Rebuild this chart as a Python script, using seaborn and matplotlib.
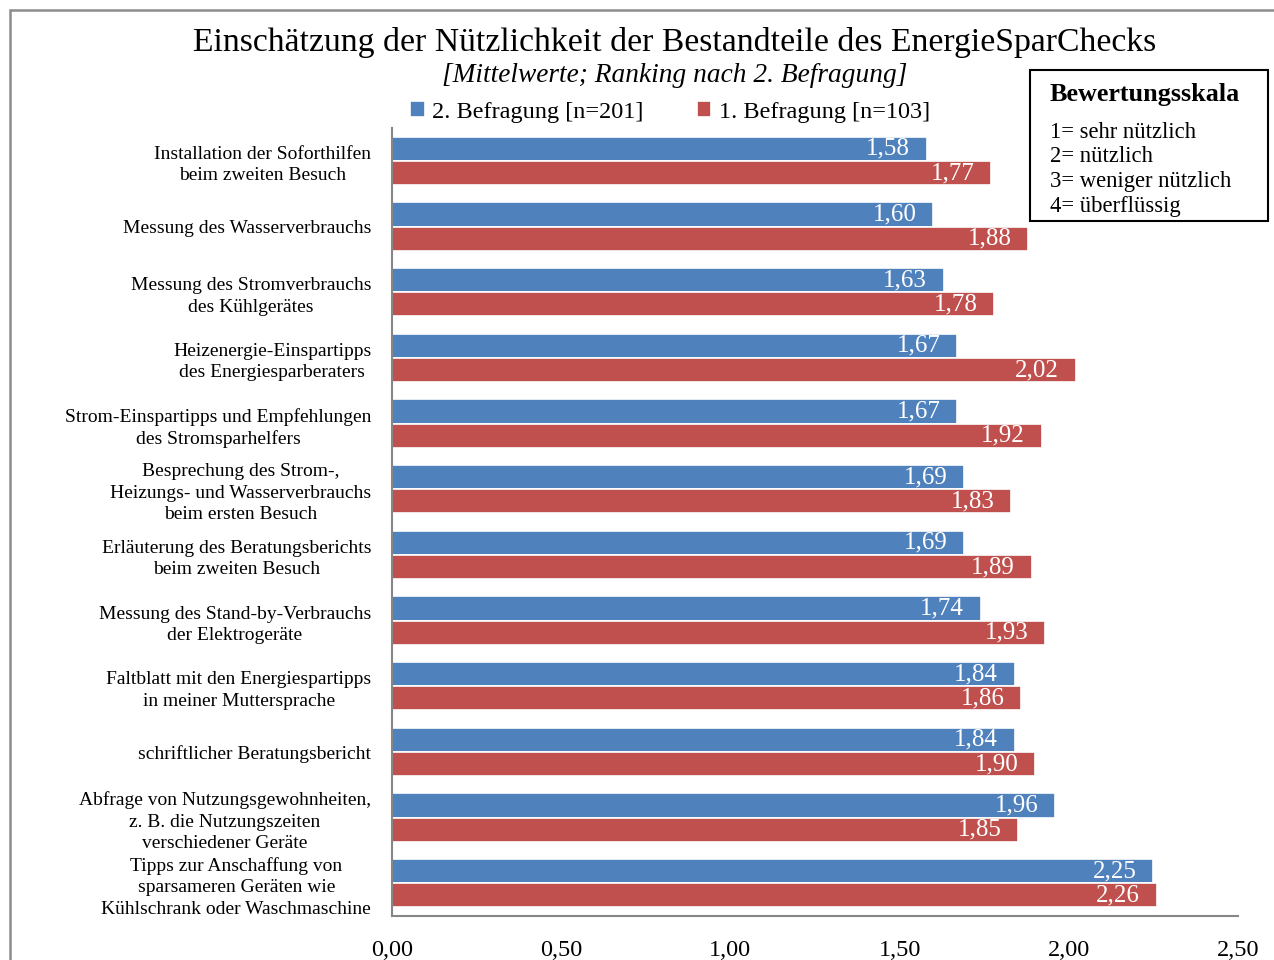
import matplotlib
matplotlib.use("Agg")
import matplotlib.pyplot as plt
import seaborn as sns
import pandas as pd
from matplotlib.ticker import FuncFormatter, MultipleLocator
from matplotlib.patches import Rectangle
from matplotlib.lines import Line2D

kategorien = [
    "Installation der Soforthilfen\nbeim zweiten Besuch",
    "Messung des Wasserverbrauchs",
    "Messung des Stromverbrauchs\ndes Kühlgerätes",
    "Heizenergie-Einspartipps\ndes Energiesparberaters",
    "Strom-Einspartipps und Empfehlungen\ndes Stromsparhelfers",
    "Besprechung des Strom-,\nHeizungs- und Wasserverbrauchs\nbeim ersten Besuch",
    "Erläuterung des Beratungsberichts\nbeim zweiten Besuch",
    "Messung des Stand-by-Verbrauchs\nder Elektrogeräte",
    "Faltblatt mit den Energiespartipps\nin meiner Muttersprache",
    "schriftlicher Beratungsbericht",
    "Abfrage von Nutzungsgewohnheiten,\nz. B. die Nutzungszeiten\nverschiedener Geräte",
    "Tipps zur Anschaffung von\nsparsameren Geräten wie\nKühlschrank oder Waschmaschine",
]
befragung2 = [1.58, 1.60, 1.63, 1.67, 1.67, 1.69, 1.69, 1.74, 1.84, 1.84, 1.96, 2.25]
befragung1 = [1.77, 1.88, 1.78, 2.02, 1.92, 1.83, 1.89, 1.93, 1.86, 1.90, 1.85, 2.26]
serien = ["2. Befragung [n=201]", "1. Befragung [n=103]"]
skala = ["1= sehr nützlich", "2= nützlich", "3= weniger nützlich", "4= überflüssig"]

df = pd.DataFrame({
    "Bestandteil": kategorien * 2,
    "Mittelwert": befragung2 + befragung1,
    "Befragung": [serien[0]] * len(kategorien) + [serien[1]] * len(kategorien),
})

sns.set_style("white")
plt.rcParams["font.family"] = ["Liberation Serif", "DejaVu Serif"]
plt.rcParams["text.color"] = "black"
plt.rcParams["xtick.color"] = "black"
plt.rcParams["ytick.color"] = "black"

W, H = 1274, 960
fig = plt.figure(figsize=(W / 100, H / 100), dpi=100)
ax = fig.add_axes([392 / W, 1 - 916 / H, (1238 - 392) / W, (916 - 128) / H])

sns.barplot(data=df, y="Bestandteil", x="Mittelwert", hue="Befragung",
            hue_order=serien, palette=["#4F81BD", "#C0504D"], orient="h",
            width=0.74, edgecolor="white", linewidth=1.2, saturation=1,
            errorbar=None, ax=ax)

# Wertebeschriftung innen am Balkenende
for cont in ax.containers:
    for p in cont:
        wert = p.get_width()
        ax.annotate(f"{wert:.2f}".replace(".", ","),
                    (p.get_x() + wert, p.get_y() + p.get_height() / 2),
                    xytext=(-12, 0), textcoords="offset points",
                    ha="right", va="center", color="white", fontsize=18)

ax.set_xlim(0, 2.5)
ax.xaxis.set_major_locator(MultipleLocator(0.5))
ax.xaxis.set_major_formatter(FuncFormatter(lambda v, _: f"{v:.2f}".replace(".", ",")))
ax.tick_params(axis="x", length=0, pad=17, labelsize=17.5)
ax.tick_params(axis="y", length=0, pad=15, labelsize=14)
for lbl in ax.get_yticklabels():
    lbl.set_multialignment("center")
    lbl.set_linespacing(1.35)
ax.set_xlabel("")
ax.set_ylabel("")
for s in ["top", "right"]:
    ax.spines[s].set_visible(False)
for s in ["left", "bottom"]:
    ax.spines[s].set_color("#868686")
    ax.spines[s].set_linewidth(1.5)

handles, labels = ax.get_legend_handles_labels()
ax.get_legend().remove()
fig.legend(handles, labels, loc="center", bbox_to_anchor=(670 / W, 1 - 112 / H),
           ncol=2, frameon=False, fontsize=17.5, handlelength=0.6, handleheight=0.6,
           handletextpad=0.3, columnspacing=2.2)

fig.text(675 / W, 1 - 42 / H, "Einschätzung der Nützlichkeit der Bestandteile des EnergieSparChecks",
         ha="center", va="center", fontsize=24.3)
fig.text(675 / W, 1 - 76 / H, "[Mittelwerte; Ranking nach 2. Befragung]",
         ha="center", va="center", fontsize=19.7, style="italic")

# Bewertungsskala-Kasten
fig.add_artist(Rectangle((1030 / W, 1 - 221 / H), (1268 - 1030) / W, (221 - 70) / H,
                         transform=fig.transFigure, fill=False, edgecolor="black", linewidth=1.5))
fig.text(1050 / W, 1 - 95 / H, "Bewertungsskala", ha="left", va="center",
         fontsize=18.8, fontweight="bold")
for i, t in enumerate(skala):
    fig.text(1050 / W, 1 - (132 + i * 24.7) / H, t, ha="left", va="center", fontsize=16.3)

# Rahmen des Diagrammbereichs
fig.add_artist(Line2D([10 / W, 10 / W], [0, 1 - 10 / H], transform=fig.transFigure,
                      color="#8c8c8c", linewidth=1.8))
fig.add_artist(Line2D([10 / W, 1], [1 - 10 / H, 1 - 10 / H], transform=fig.transFigure,
                      color="#8c8c8c", linewidth=1.8))

fig.savefig("out.png", dpi=100)
